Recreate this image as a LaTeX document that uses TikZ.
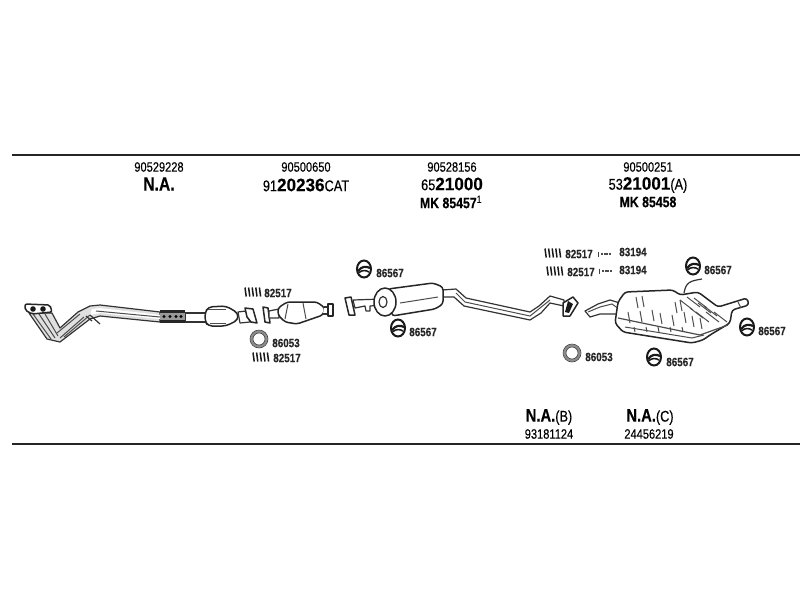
\documentclass[tikz,border=0pt]{standalone}
\usepackage{fontspec}
\setmainfont{Liberation Sans}[FakeStretch=0.82, FakeBold=0.25]
\newfontfamily\widefont{Liberation Sans}[FakeStretch=0.95, FakeBold=0.3]
\usetikzlibrary{positioning}

\newcommand{\partnum}[1]{{\widefont\bfseries\fontsize{18}{18}\selectfont #1}}
\newcommand{\nacode}{{\bfseries\fontsize{18}{18}\selectfont N.A.}}

\tikzset{
    refno/.style={font=\fontsize{13.5}{14}\selectfont, inner sep=0pt},
    mainno/.style={font=\fontsize{15.5}{16}\selectfont, inner sep=0pt},
    mkno/.style={font=\bfseries\fontsize{15}{16}\selectfont, inner sep=0pt},
    partlabel/.style={font=\bfseries\fontsize{12}{12}\selectfont, text=black!85, inner sep=0pt},
    pipe/.style={draw=black!80, line width=1.2pt, fill=white, line join=round},
    body/.style={draw=black!85, line width=1.5pt, fill=white, line join=round},
    detail/.style={draw=black!70, line width=1pt},
    hanger/.pic={
        \draw[black!90, line width=2pt, fill=white] (0,0) ellipse (7 and 8.5);
        \draw[black!90, line width=2.2pt] (-6,2) .. controls (-2,-3) and (2,-3) .. (6,-1);
        \draw[black!90, line width=1.6pt] (-5,3.5) .. controls (-2,1) and (2,1) .. (5,3);
    },
    gasket/.pic={
        \draw[black!45, line width=2.6pt] (0,0) circle (7.5);
        \draw[black!75, line width=0.6pt] (0,0) circle (6) (0,0) circle (9);
    },
    springset/.pic={
        \foreach \i in {0,3.6,7.2,10.8,14.4}
            \draw[black!90, line width=1.5pt] (\i,-4.5) -- (\i+1.2,4.5);
    },
    clampset/.pic={
        \draw[black!75, line width=1pt] (0,-2.5) -- (0,2.5);
        \draw[black!70, line width=2pt, dash pattern=on 2pt off 0.6pt] (3,0) -- (13,0);
    }
}

\begin{document}
\begin{tikzpicture}[x=1pt, y=-1pt]
\useasboundingbox (0,0) rectangle (800,600);

% Rules
\coordinate (topL) at (12,155);
\coordinate (topR) at (800,155);
\coordinate (botL) at (12,444);
\coordinate (botR) at (800,444);
\draw[black!85, line width=1.7pt] (topL) -- (topR);
\draw[black!85, line width=1.7pt] (botL) -- (botR);

% Header
\node[refno] (refA) at (159,167) {90529228};
\node[font=\bfseries\fontsize{19}{19}\selectfont, inner sep=0pt] (mainA) at (159,184) {N.A.};
\node[refno] (refB) at (306,167) {90500650};
\node[mainno] (mainB) at (306,185) {91\partnum{20236}CAT};
\node[refno] (refC) at (452,167) {90528156};
\node[mainno] (mainC) at (452,184) {65\partnum{21000}};
\node[mkno] (mkC) at (451,202) {MK 85457\textsuperscript{\mdseries 1}};
\node[refno] (refD) at (648,167) {90500251};
\node[mainno] (mainD) at (648,185) {53\partnum{21001}(A)};
\node[mkno] (mkD) at (648,202) {MK 85458};

% Footer
\node[mainno] (naB) at (549,417) {\nacode(B)};
\node[refno] (subB) at (549,434) {93181124};
\node[mainno] (naC) at (650,417) {\nacode(C)};
\node[refno] (subC) at (649,434) {24456219};

% Front pipe
\draw[pipe, fill=black!12] (29,313) -- (47,339) -- (60,342) -- (90,319) -- (100,316) -- (160,322)
    -- (160,312) -- (100,305) -- (90,306) -- (78,312) -- (60,328) -- (52,313) -- cycle;
\fill[white] (92,309) -- (100,308) -- (160,315) -- (160,319) -- (100,313) -- (90,315) -- cycle;
\draw[detail] (33,314) -- (51,339) (39,314) -- (55,338) (45,314) -- (58,336);
\draw[detail] (60,338) -- (84,317) (57,333) -- (80,314) (64,337) -- (90,315);
\draw[detail] (96,311) -- (160,317);
\draw[pipe] (86,316) -- (92,321) (90,315) -- (100,324);
\draw[body, rounded corners=2pt] (25,304) -- (50,305) -- (52,312) -- (32,314) -- (25,310) -- cycle;
\fill[black!90] (33,309) circle (2.8) (43,309) circle (2.8);

% Flex section and front catalyst
\draw[pipe] (185,313) rectangle (206,322);
\fill[black!85] (160,310) rectangle (185,323);
\fill[black!40] (160,313) rectangle (185,320);
\foreach \x in {164,170,176,181}
    \fill[black] (\x,316.5) circle (1.6);
\draw[body, rounded corners=4pt] (205,313) -- (208,307) -- (226,306) -- (238,313)
    -- (238,320) -- (226,326) -- (208,326) -- (205,321) -- cycle;
\draw[detail] (208,309) -- (226,309) (210,323) -- (226,323);
\draw[pipe] (238,312) -- (246,311) -- (250,322) -- (240,323) -- cycle;
\draw[body] (245,308) -- (253,309) -- (257,323) -- (251,322) -- (247,317) -- cycle;

% Rear catalyst
\draw[body] (263,307) -- (268,308) -- (270,323) -- (265,322) -- cycle;
\draw[pipe] (269,311) -- (279,309) -- (279,318) -- (269,318) -- cycle;
\draw[body, rounded corners=3pt] (278,308) -- (287,302) -- (317,302) -- (325,308)
    -- (323,315) -- (297,324) -- (285,322) -- (278,315) -- cycle;
\draw[detail] (303,303) -- (306,319) (288,304) -- (285,319);
\draw[pipe] (324,307) -- (331,307) -- (331,314) -- (323,314);
\draw[body] (328,304) rectangle (333,316);

% Center muffler and pipe
\draw[body] (345,298) -- (351,297) -- (355,315) -- (349,315) -- cycle;
\draw[pipe] (353,300) -- (382,299) -- (382,305) -- (370,306) -- (370,311) -- (366,311)
    -- (365,306) -- (355,308) -- cycle;
\draw[pipe] (442,290) -- (456,289) -- (466,298) -- (530,312) -- (539,306) -- (550,296)
    -- (564,300) -- (564,306) -- (550,303) -- (541,313) -- (530,320) -- (464,306) -- (454,297) -- (442,297) -- cycle;
\draw[detail] (456,293) -- (465,302) -- (530,316) -- (550,300);
\draw[body, rounded corners=3pt] (388,289) -- (433,283) -- (443,287) -- (443,304)
    -- (435,309) -- (392,316) -- cycle;
\draw[detail] (400,303) -- (438,297);
\draw[body] (385,302) ellipse (11 and 14);
\draw[pipe] (383,302) ellipse (4 and 5.5);
\draw[body] (563,303) -- (573,297) -- (578,303) -- (570,316) -- (563,316) -- cycle;
\fill[black!90] (568,301) -- (573,304) -- (569,313) -- (565,312) -- cycle;

% Rear muffler
\draw[pipe] (585,311) -- (598,304) -- (610,300) -- (620,303) -- (620,314) -- (600,314) -- (590,317) -- cycle;
\draw[detail] (588,312) -- (600,307) -- (612,304) -- (619,309);
\draw[body, rounded corners=3pt] (618,302) -- (625,292) -- (673,290) -- (680,295)
    -- (698,292) -- (718,307) -- (747,298) -- (749,305) -- (732,310) -- (730,323)
    -- (710,335) -- (703,340) -- (692,343) -- (623,332) -- (615,323) -- cycle;
\draw[detail, line width=1.2pt] (618,318) -- (700,335) -- (728,325);
\draw[detail] (625,327) -- (692,338) -- (704,335);
\draw[detail] (738,302) -- (741,308);
\foreach \x/\y in {636/297,642/296,628/312,640/311,652/310,660/313,672/315,680/300,675/302,684/312,692/316,700/318}
    \draw[detail] (\x,\y) -- (\x+2,\y+11);
\foreach \x/\y in {680/300,687/297,694/298,698/303,704/306,690/308,696/312,706/312,714/312}
    \draw[detail] (\x,\y) -- (\x+13,\y+10);
\foreach \x in {634,646,658,670,682}
    \draw[detail] (\x,327) -- (\x+1,332);
\draw[pipe, fill=none] (684,293) .. controls (686,282) and (690,281) .. (702,279);

% Gaskets
\pic at (259,339) {gasket};
\pic at (572,353) {gasket};

% Hangers
\pic at (364,269) {hanger};
\pic at (398,328) {hanger};
\pic at (693,266) {hanger};
\pic at (747,327) {hanger};
\pic at (654,357) {hanger};

% Springs and clamps
\pic at (245,292) {springset};
\pic at (253,357) {springset};
\pic at (545,253) {springset};
\pic at (547,271) {springset};
\pic at (598,254) {clampset};
\pic at (599,271) {clampset};

% Part labels
\node[partlabel] (sprA) at (278,293) {82517};
\node[partlabel] (gskA) at (286,343) {86053};
\node[partlabel] (sprB) at (287,358) {82517};
\node[partlabel] (hngA) at (390,273) {86567};
\node[partlabel] (hngB) at (423,332) {86567};
\node[partlabel] (sprC) at (579,254) {82517};
\node[partlabel] (clpA) at (633,252) {83194};
\node[partlabel] (sprD) at (581,272) {82517};
\node[partlabel] (clpB) at (633,270) {83194};
\node[partlabel] (hngC) at (718,270) {86567};
\node[partlabel] (hngD) at (772,331) {86567};
\node[partlabel] (hngE) at (680,362) {86567};
\node[partlabel] (gskB) at (599,357) {86053};

\end{tikzpicture}
\end{document}
